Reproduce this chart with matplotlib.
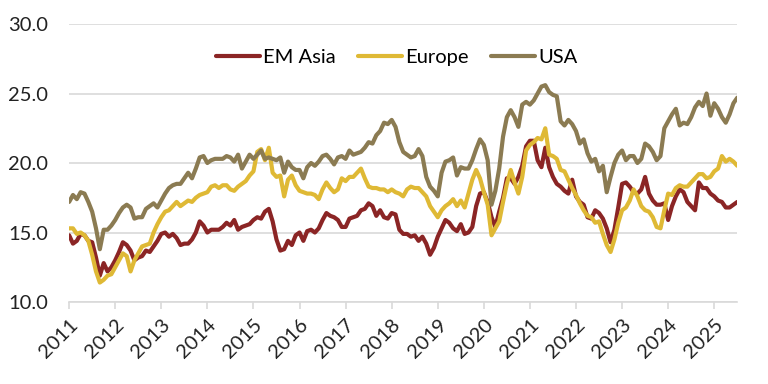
import numpy as np
import matplotlib.pyplot as plt

plt.rcParams['font.family'] = ['Lato', 'DejaVu Sans']

# monthly values, Jan 2011 - Jul 2025
em_asia = [
    14.8, 14.2, 14.4, 14.9, 14.8, 14.4, 14.3, 13.2, 11.9, 12.8, 12.2, 12.5,
    13.0, 13.6, 14.3, 14.1, 13.7, 13.0, 13.2, 13.3, 13.7, 13.6, 14.0, 14.4,
    14.9, 15.0, 14.7, 14.9, 14.6, 14.1, 14.2, 14.2, 14.5, 15.0, 15.8, 15.5,
    15.0, 15.2, 15.2, 15.2, 15.4, 15.7, 15.5, 15.9, 15.2, 15.4, 15.5, 15.6,
    15.9, 16.1, 16.0, 16.5, 16.7, 15.8, 14.5, 13.7, 13.8, 14.4, 14.1, 14.8,
    15.0, 14.4, 15.1, 15.2, 15.0, 15.3, 15.9, 16.4, 16.2, 16.1, 15.9, 15.4,
    15.4, 16.0, 16.1, 16.2, 16.6, 16.7, 17.1, 16.9, 16.2, 16.6, 16.1, 16.0,
    16.4, 16.3, 15.2, 14.9, 14.9, 14.7, 14.8, 14.4, 14.7, 14.2, 13.4, 13.9,
    14.7, 15.3, 15.9, 15.7, 15.3, 15.1, 15.6, 14.9, 15.0, 15.4, 16.9, 17.8,
    17.9, 17.2, 16.1, 15.4, 16.5, 17.5, 18.9, 18.9, 18.5, 19.0, 19.8, 21.2,
    21.6, 21.6, 20.2, 19.7, 21.1, 19.7, 19.0, 18.5, 18.3, 18.0, 17.8, 18.8,
    17.6, 17.2, 17.0, 16.1, 16.0, 16.6, 16.4, 16.0, 15.3, 14.3, 15.2, 16.8,
    18.5, 18.6, 18.3, 17.9, 17.8, 18.1, 19.0, 17.8, 17.3, 17.0, 17.0, 17.1,
    15.9, 16.9, 17.6, 18.1, 17.9, 17.2, 16.9, 16.6, 18.6, 18.2, 18.2, 17.8,
    17.6, 17.3, 17.2, 16.8, 16.8, 17.0, 17.2,
]
europe = [
    15.3, 15.3, 14.9, 15.0, 14.8, 14.4, 13.4, 12.2, 11.4, 11.6, 11.9, 12.0,
    12.5, 13.0, 13.5, 13.3, 12.2, 13.0, 13.5, 14.0, 14.1, 14.2, 15.0, 15.6,
    16.1, 16.5, 16.6, 16.9, 17.2, 16.9, 17.1, 17.3, 17.2, 17.5, 17.7, 17.8,
    17.9, 18.3, 18.4, 18.2, 18.4, 18.4, 18.1, 18.0, 18.3, 18.5, 18.7, 19.1,
    19.4, 20.8, 21.0, 20.2, 21.1, 19.3, 19.0, 19.1, 17.6, 18.8, 19.1, 18.4,
    18.0, 17.9, 17.8, 17.8, 17.7, 17.4, 18.1, 18.6, 18.2, 17.9, 18.1, 18.9,
    18.7, 19.0, 19.0, 19.3, 19.6, 18.9, 18.3, 18.2, 18.2, 18.1, 18.1, 17.9,
    18.1, 17.9, 17.8, 17.6, 18.1, 18.3, 18.2, 18.2, 17.9, 17.6, 16.9, 16.5,
    16.1, 16.6, 16.9, 17.1, 17.4, 16.9, 17.3, 16.8, 17.8, 18.8, 19.5, 18.9,
    17.9, 17.0, 14.8, 15.3, 15.8, 17.2, 18.5, 19.5, 18.6, 17.8, 19.0, 20.9,
    21.3, 21.5, 21.8, 21.7, 22.5, 20.6, 20.5, 20.3, 19.5, 19.4, 18.8, 18.2,
    17.7, 17.1, 16.6, 16.2, 16.1, 15.7, 15.8, 14.9, 14.1, 13.6, 14.5, 15.7,
    16.6, 16.8, 17.3, 18.1, 17.6, 16.9, 16.6, 16.5, 16.1, 15.4, 15.3, 16.6,
    17.8, 17.7, 18.2, 18.4, 18.3, 18.3, 18.6, 18.9, 19.2, 19.2, 18.9, 19.0,
    19.4, 19.6, 20.5, 20.1, 20.3, 20.1, 19.8,
]
usa = [
    17.2, 17.7, 17.4, 17.9, 17.8, 17.2, 16.5, 15.3, 13.8, 15.2, 15.2, 15.5,
    15.9, 16.4, 16.8, 17.0, 16.8, 16.0, 16.1, 16.1, 16.7, 16.9, 17.1, 16.8,
    17.3, 17.8, 18.2, 18.4, 18.5, 18.5, 18.9, 19.3, 18.9, 19.6, 20.4, 20.5,
    20.0, 20.2, 20.3, 20.3, 20.3, 20.5, 20.4, 20.1, 20.6, 19.6, 20.1, 20.6,
    20.3, 20.6, 20.9, 20.3, 20.4, 20.3, 20.2, 20.4, 19.3, 20.1, 19.7, 19.5,
    19.5, 18.9, 19.7, 20.0, 19.8, 20.1, 20.5, 20.6, 20.3, 19.9, 20.4, 20.5,
    20.3, 20.9, 20.6, 20.7, 20.8, 21.1, 21.5, 21.4, 22.0, 22.3, 22.9, 22.8,
    23.1, 22.6, 21.5, 20.8, 20.6, 20.4, 20.5, 21.0, 20.5, 19.0, 18.3, 18.0,
    17.6, 19.3, 20.1, 20.2, 20.4, 19.1, 19.7, 19.6, 19.6, 20.2, 21.0, 21.7,
    21.3, 20.2, 17.0, 18.0, 19.6, 21.9, 23.3, 23.8, 23.3, 22.6, 24.2, 24.4,
    24.2, 24.5, 25.0, 25.5, 25.6, 25.1, 24.9, 24.8, 23.0, 22.7, 23.1, 22.8,
    22.3, 21.4, 21.7, 20.7, 20.1, 20.3, 19.4, 19.8, 17.9, 19.0, 20.0, 20.6,
    20.9, 20.2, 20.5, 20.5, 20.0, 20.3, 21.4, 21.2, 20.8, 20.2, 20.5, 22.5,
    23.0, 23.5, 23.9, 22.7, 22.9, 22.8, 23.3, 24.0, 24.4, 24.1, 25.0, 23.4,
    24.3, 23.9, 23.3, 22.9, 23.5, 24.3, 24.7,
]
years = list(range(2011, 2026))

x = 2011 + np.arange(len(usa)) / 12

fig = plt.figure(figsize=(7.68, 3.84), dpi=100)
ax = fig.add_axes([0.09, 0.2135, 0.87, 0.724])

ax.plot(x, em_asia, color='#8b2525', lw=3.0, label='EM Asia', solid_capstyle='round')
ax.plot(x, europe, color='#dfb935', lw=3.0, label='Europe', solid_capstyle='round')
ax.plot(x, usa, color='#8b7b52', lw=3.0, label='USA', solid_capstyle='round')

ax.set_ylim(10, 30)
ax.set_yticks([10, 15, 20, 25, 30])
ax.set_yticklabels([f'{v:.1f}' for v in [10, 15, 20, 25, 30]])
ax.set_xlim(x[0], x[-1])
ax.set_xticks(years)
ax.set_xticklabels([str(y) for y in years], rotation=45, ha='right',
                   rotation_mode='anchor')

ax.grid(axis='y', color='#d9d9d9', lw=1.2)
ax.set_axisbelow(True)
for s in ['top', 'right', 'left']:
    ax.spines[s].set_visible(False)
ax.spines['bottom'].set_color('#d9d9d9')
ax.spines['bottom'].set_linewidth(1.2)
ax.tick_params(axis='y', length=0, pad=15, labelsize=14.5, labelcolor='#222222')
ax.tick_params(axis='x', length=5, width=1.2, color='#d9d9d9', pad=5,
               labelsize=14.5, labelcolor='#222222')

ax.legend(loc='upper center', bbox_to_anchor=(0.49, 0.975), ncol=3, frameon=False,
          fontsize=14.5, handlelength=2.2, handletextpad=0.15, columnspacing=1.1)

fig.savefig('out.png', dpi=100)
